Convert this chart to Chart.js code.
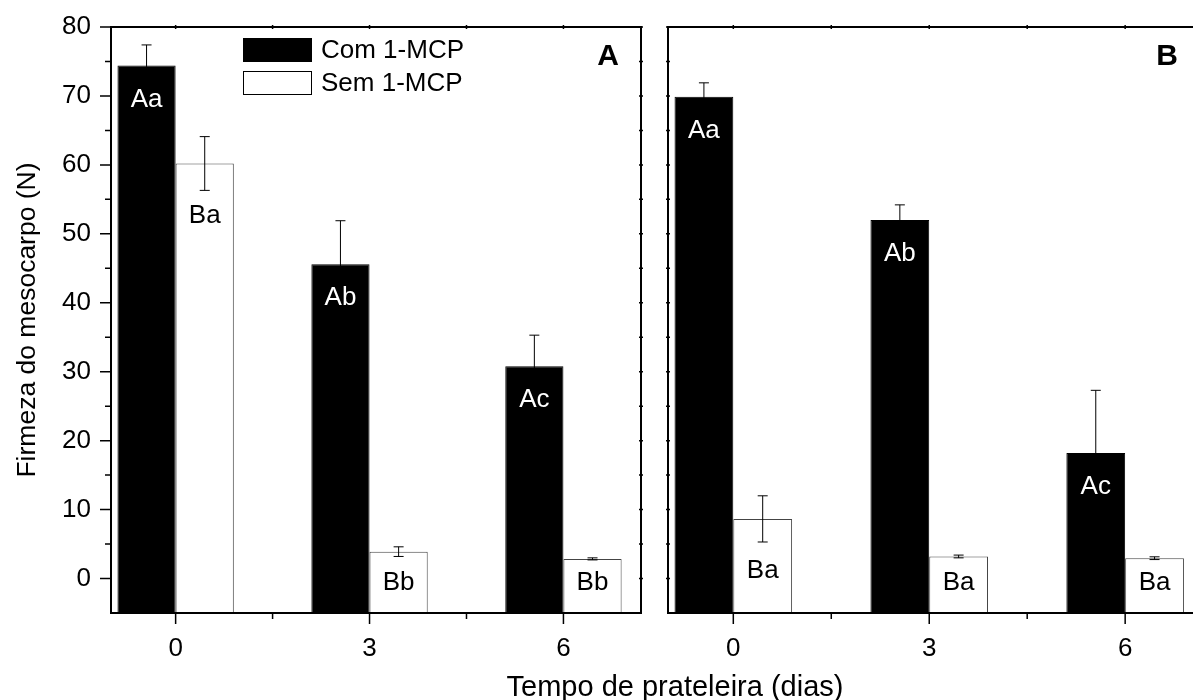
<!DOCTYPE html>
<html>
<head>
<meta charset="utf-8">
<script src="https://cdn.jsdelivr.net/npm/chart.js@4.4.0/dist/chart.umd.min.js"></script>
<style>
  body { margin: 0; background: #fff; width: 1193px; height: 700px; overflow: hidden; position: relative;
         font-family: "Liberation Sans", Arial, sans-serif; }
  #painelA { position: absolute; left: 0; top: 0; }
  #painelB { position: absolute; left: 600px; top: 0; }
  #tituloX { position: absolute; left: 675px; top: 672px; transform: translateX(-50%);
             font-size: 29px; line-height: 29px; white-space: nowrap; color: #000; }
</style>
</head>
<body>
<canvas id="painelA" width="650" height="700"></canvas>
<canvas id="painelB" width="600" height="700"></canvas>
<div id="tituloX">Tempo de prateleira (dias)</div>
<script>
// Dados (firmeza em N)
const dias = [0, 3, 6];
const series = ['Com 1-MCP', 'Sem 1-MCP'];

const comA = [74.4, 45.6, 30.8];
const erroComA = [3.0, 6.3, 4.5];
const semA = [60.2, 3.9, 2.85];
const erroSemA = [3.9, 0.7, 0.15];

const comB = [69.9, 52.0, 18.2];
const erroComB = [2.0, 2.2, 9.1];
const semB = [8.65, 3.2, 2.95];
const erroSemB = [3.35, 0.2, 0.2];

const letrasComA = ['Aa', 'Ab', 'Ac'];
const letrasSemA = ['Ba', 'Bb', 'Bb'];
const letrasComB = ['Aa', 'Ab', 'Ac'];
const letrasSemB = ['Ba', 'Ba', 'Ba'];

// Marcas dos eixos
const yMaiores = [0, 10, 20, 30, 40, 50, 60, 70, 80];
const yMenores = [5, 15, 25, 35, 45, 55, 65, 75];
const xMaiores = [0, 3, 6];
const xMenores = [1.5, 4.5];

Chart.defaults.font.family = '"Liberation Sans", Arial, sans-serif';
Chart.defaults.color = '#000';

// Plugin: moldura, marcas, barras de erro, letras, legenda e letra do painel
const extras = {
    id: 'extras',
    afterDatasetsDraw(chart, args, o) {
        const { ctx, chartArea: a, scales: { x, y } } = chart;
        ctx.save();

        // barras de erro
        ctx.strokeStyle = '#000';
        ctx.lineWidth = 1;
        chart.data.datasets.forEach((ds, i) => {
            const meta = chart.getDatasetMeta(i);
            meta.data.forEach((el, j) => {
                const v = ds.data[j].y, e = ds.erros[j];
                const yt = y.getPixelForValue(v + e), yb = y.getPixelForValue(v - e);
                ctx.beginPath();
                ctx.moveTo(el.x, yt); ctx.lineTo(el.x, yb);
                ctx.moveTo(el.x - 5, yt); ctx.lineTo(el.x + 5, yt);
                ctx.moveTo(el.x - 5, yb); ctx.lineTo(el.x + 5, yb);
                ctx.stroke();
            });
        });

        // letras dentro das barras
        ctx.font = '26px "Liberation Sans", Arial, sans-serif';
        ctx.textAlign = 'center';
        ctx.textBaseline = 'middle';
        const limite = y.getPixelForValue(-0.6);
        chart.data.datasets.forEach((ds, i) => {
            const meta = chart.getDatasetMeta(i);
            meta.data.forEach((el, j) => {
                if (i === 0) {
                    ctx.fillStyle = '#fff';
                    ctx.fillText(ds.letras[j], el.x, el.y + 34);
                } else {
                    ctx.fillStyle = '#000';
                    ctx.fillText(ds.letras[j], el.x, Math.min(el.y + 52, limite));
                }
            });
        });

        // moldura
        ctx.strokeStyle = '#000';
        ctx.lineWidth = 2;
        ctx.strokeRect(a.left, a.top, a.right - a.left, a.bottom - a.top);

        // marcas
        ctx.lineWidth = 1.5;
        ctx.beginPath();
        yMaiores.forEach(v => {
            const p = y.getPixelForValue(v);
            if (o.rotulosY) { ctx.moveTo(a.left - 11, p); ctx.lineTo(a.left, p); }
            else { ctx.moveTo(a.left - 2, p); ctx.lineTo(a.left + 2, p); }
            ctx.moveTo(a.right - 2, p); ctx.lineTo(a.right + 2, p);
        });
        yMenores.forEach(v => {
            const p = y.getPixelForValue(v);
            if (o.rotulosY) { ctx.moveTo(a.left - 6, p); ctx.lineTo(a.left, p); }
            else { ctx.moveTo(a.left - 2, p); ctx.lineTo(a.left + 2, p); }
            ctx.moveTo(a.right - 2, p); ctx.lineTo(a.right + 2, p);
        });
        xMaiores.forEach(v => {
            const p = x.getPixelForValue(v);
            ctx.moveTo(p, a.bottom); ctx.lineTo(p, a.bottom + 11);
            ctx.moveTo(p, a.top - 2); ctx.lineTo(p, a.top + 2);
        });
        xMenores.forEach(v => {
            const p = x.getPixelForValue(v);
            ctx.moveTo(p, a.bottom); ctx.lineTo(p, a.bottom + 6);
            ctx.moveTo(p, a.top - 2); ctx.lineTo(p, a.top + 2);
        });
        ctx.stroke();

        // legenda (somente no painel A)
        if (o.legenda) {
            ctx.font = '26px "Liberation Sans", Arial, sans-serif';
            ctx.textAlign = 'left';
            ctx.textBaseline = 'middle';
            chart.data.datasets.forEach((ds, i) => {
                const bx = a.left + 132, by = a.top + 11 + i * 33;
                ctx.fillStyle = ds.backgroundColor;
                ctx.fillRect(bx, by, 69, 24);
                ctx.lineWidth = 1;
                ctx.strokeStyle = '#000';
                ctx.strokeRect(bx + 0.5, by + 0.5, 68, 23);
                ctx.fillStyle = '#000';
                ctx.fillText(ds.label, bx + 78, by + 13);
            });
        }

        // letra do painel
        ctx.font = 'bold 30px "Liberation Sans", Arial, sans-serif';
        ctx.textAlign = 'center';
        ctx.textBaseline = 'middle';
        ctx.fillStyle = '#000';
        ctx.fillText(o.letra, a.right - o.letraDx, a.top + 30);

        ctx.restore();
    }
};

function criarPainel(id, com, erroCom, sem, erroSem, letrasCom, letrasSem, cfg) {
    const ctx = document.getElementById(id).getContext('2d');
    return new Chart(ctx, {
        type: 'bar',
        data: {
            datasets: [{
                label: series[0],
                data: dias.map((d, i) => ({ x: d, y: com[i] })),
                erros: erroCom,
                letras: letrasCom,
                backgroundColor: '#000',
                borderColor: '#000',
                borderWidth: 1
            }, {
                label: series[1],
                data: dias.map((d, i) => ({ x: d, y: sem[i] })),
                erros: erroSem,
                letras: letrasSem,
                backgroundColor: '#fff',
                borderColor: '#444',
                borderWidth: 1
            }]
        },
        options: {
            responsive: false,
            animation: false,
            events: [],
            base: -5,
            categoryPercentage: 1.2,
            barPercentage: 1,
            layout: { padding: { top: 27, right: cfg.dir, left: 0, bottom: 0 } },
            plugins: {
                legend: { display: false },
                tooltip: { enabled: false },
                extras: { legenda: cfg.legenda, letra: cfg.letra, letraDx: cfg.letraDx, rotulosY: cfg.rotulosY }
            },
            scales: {
                x: {
                    type: 'linear',
                    min: -1,
                    max: cfg.xMax,
                    offset: false,
                    grid: { display: false, drawTicks: false, offset: false },
                    border: { display: false },
                    afterBuildTicks: s => { s.ticks = xMaiores.concat(xMenores).sort((p, q) => p - q).map(v => ({ value: v })); },
                    afterFit: s => { s.height = 87; s.paddingLeft = 0; s.paddingRight = 0; },
                    ticks: {
                        font: { size: 26 },
                        padding: 20,
                        maxRotation: 0,
                        autoSkip: false,
                        callback: v => (xMaiores.includes(v) ? String(v) : '')
                    }
                },
                y: {
                    min: -5,
                    max: 80,
                    grid: { display: false, drawTicks: false },
                    border: { display: false },
                    afterBuildTicks: s => { s.ticks = yMaiores.map(v => ({ value: v })); },
                    afterFit: s => { s.width = cfg.larguraY; s.paddingTop = 0; s.paddingBottom = 0; },
                    title: {
                        display: cfg.rotulosY,
                        text: 'Firmeza do mesocarpo (N)',
                        font: { size: 26.5 },
                        padding: { top: 12, bottom: 0 }
                    },
                    ticks: {
                        display: cfg.rotulosY,
                        font: { size: 26 },
                        padding: 20
                    }
                }
            }
        },
        plugins: [extras]
    });
}

criarPainel('painelA', comA, erroComA, semA, erroSemA, letrasComA, letrasSemA,
    { xMax: 7.2, dir: 9, larguraY: 111, legenda: true, letra: 'A', letraDx: 33, rotulosY: true });
criarPainel('painelB', comB, erroComB, semB, erroSemB, letrasComB, letrasSemB,
    { xMax: 7.1, dir: 3, larguraY: 68, legenda: false, letra: 'B', letraDx: 30, rotulosY: false });
</script>
</body>
</html>
